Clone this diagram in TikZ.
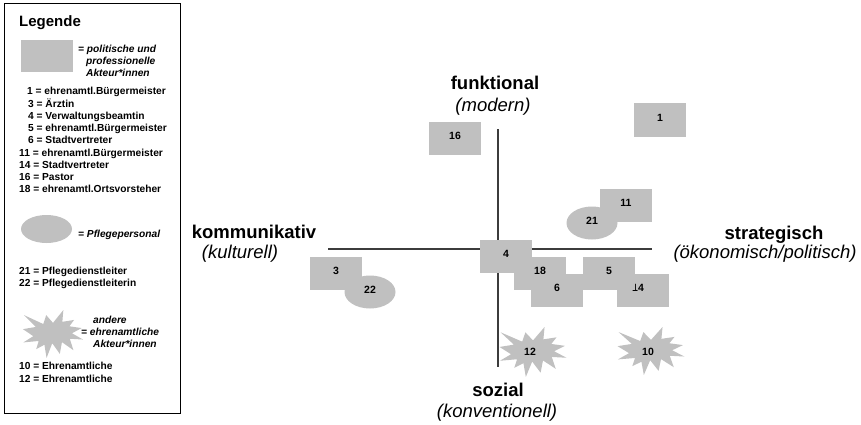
\documentclass[tikz,border=0pt]{standalone}
\usepackage{fontspec}
\setmainfont{Liberation Sans}
\usetikzlibrary{shapes.geometric}
\definecolor{boxgray}{RGB}{192,192,192}
\definecolor{axisgray}{RGB}{60,60,60}
\begin{document}
\begin{tikzpicture}[x=1pt,y=-1pt,
  numfont/.style={font=\fontsize{10.5}{12}\selectfont\bfseries},
  box/.style={numfont, fill=boxgray, minimum width=52pt, minimum height=33pt, inner sep=0pt, text height=7pt, text depth=4pt},
  oval/.style={numfont, ellipse, fill=boxgray, minimum width=51pt, minimum height=33pt, inner sep=0pt, text height=7pt, text depth=4pt},
  num/.style={numfont, inner sep=0pt},
  leg/.style={anchor=base west, inner sep=0pt, font=\fontsize{10.2}{12}\selectfont\bfseries},
  legit/.style={anchor=base west, inner sep=0pt, font=\fontsize{10.2}{12}\selectfont\bfseries\itshape},
  axlab/.style={anchor=base, inner sep=0pt, font=\fontsize{18.5}{22}\selectfont\bfseries},
  axsub/.style={anchor=base, inner sep=0pt, font=\fontsize{18.5}{22}\selectfont\itshape},
  axis/.style={draw=axisgray, line width=1.2pt},
  burst/.pic={\fill[boxgray] (0,-50) -- (37.22,-108) -- (33.55,-54.75) -- (75.8,-63.43) -- (59.02,-34.85) -- (102.97,-26.63) -- (68.07,-3.25) -- (108,24.9) -- (60.37,21.42) -- (73.45,72.95) -- (32.2,36.57) -- (24.47,89.37) -- (-2.68,41.35) -- (-23.15,108) -- (-30.85,48.27) -- (-60.38,68.17) -- (-51.33,31.37) -- (-106.65,37.87) -- (-70.78,9.75) -- (-108,-21.85) -- (-61.73,-31.83) -- (-104.3,-85.05) -- (-34.88,-44.8) -- (-24.48,-85.05) -- cycle;}
]
\useasboundingbox (0,0) rectangle (861,425);
\fill[white] (0,0) rectangle (861,425);

% ---------- legend ----------
\draw[black, line width=0.9pt] (4.5,3.5) rectangle (180.5,413);
\node[anchor=base west, inner sep=0pt, font=\fontsize{15}{17}\selectfont\bfseries] (legtitle) at (19,26.5) {Legende};
\node[fill=boxgray, minimum width=52pt, minimum height=32pt, inner sep=0pt] (legbox) at (46.5,56) {};
\node[legit] (lt1) at (78,53) {= politische und};
\node[legit] (lt2) at (86,65) {professionelle};
\node[legit] (lt3) at (86,77) {Akteur*innen};

\node[leg] (l1) at (27,95) {1 = ehrenamtl.Bürgermeister};
\node[leg] (l3) at (28,107.2) {3 = Ärztin};
\node[leg] (l4) at (28,119.4) {4 = Verwaltungsbeamtin};
\node[leg] (l5) at (28,131.6) {5 = ehrenamtl.Bürgermeister};
\node[leg] (l6) at (28,143.8) {6 = Stadtvertreter};
\node[leg] (l11) at (19,156) {11 = ehrenamtl.Bürgermeister};
\node[leg] (l14) at (19,168.2) {14 = Stadtvertreter};
\node[leg] (l16) at (19,180.4) {16 = Pastor};
\node[leg] (l18) at (19,192.6) {18 = ehrenamtl.Ortsvorsteher};

\node[ellipse, fill=boxgray, minimum width=51pt, minimum height=28pt, inner sep=0pt] (legoval) at (46.5,229) {};
\node[legit] (lp) at (78,237) {= Pflegepersonal};
\node[leg] (l21) at (19,274) {21 = Pflegedienstleiter};
\node[leg] (l22) at (19,286) {22 = Pflegedienstleiterin};

\pic[xscale=0.278, yscale=0.222] at (53,334) {burst};
\node[legit] (la1) at (93,323) {andere};
\node[legit] (la2) at (81,335) {= ehrenamtliche};
\node[legit] (la3) at (93,347) {Akteur*innen};
\node[leg] (l10) at (19,369) {10 = Ehrenamtliche};
\node[leg] (l12) at (19,382) {12 = Ehrenamtliche};

% ---------- axes ----------
\coordinate (hl) at (328,249);
\coordinate (hr) at (652,249);
\coordinate (vt) at (498,129);
\coordinate (vb) at (498,367);
\draw[axis] (hl) -- (hr);
\draw[axis] (vt) -- (vb);

\node[axlab] (top) at (495,90) {funktional};
\node[axsub] (topsub) at (493,111) {(modern)};
\node[axlab] (left) at (254,238) {kommunikativ};
\node[axsub] (leftsub) at (240,258) {(kulturell)};
\node[axlab] (right) at (774,239) {strategisch};
\node[axsub] (rightsub) at (765,258) {(ökonomisch/politisch)};
\node[axlab] (bottom) at (498,396.5) {sozial};
\node[axsub] (bottomsub) at (497,417.5) {(konventionell)};

% ---------- actors ----------
\node[box] (b16) at (455,138) {16};
\node[box] (b1) at (660,120) {1};
\node[box] (b11) at (626,205) {11};
\node[oval] (e21) at (592,223) {21};
\node[box] (b4) at (506,256) {4};
\node[box] (b18) at (540,273) {18};
\node[box] (b6) at (557,290) {6};
\node[box] (b14) at (643,290) {};
\node[num] (t14) at (638,288) {14};
\node[box] (b5) at (609,273) {5};
\node[box] (b3) at (336,273) {3};
\node[oval] (e22) at (370,292) {22};

\pic[xscale=0.31, yscale=0.231] at (533,352) {burst};
\node[num] (s12) at (530,352) {12};
\pic[xscale=0.31, yscale=0.222] at (651,351) {burst};
\node[num] (s10) at (648,352) {10};
\end{tikzpicture}
\end{document}
